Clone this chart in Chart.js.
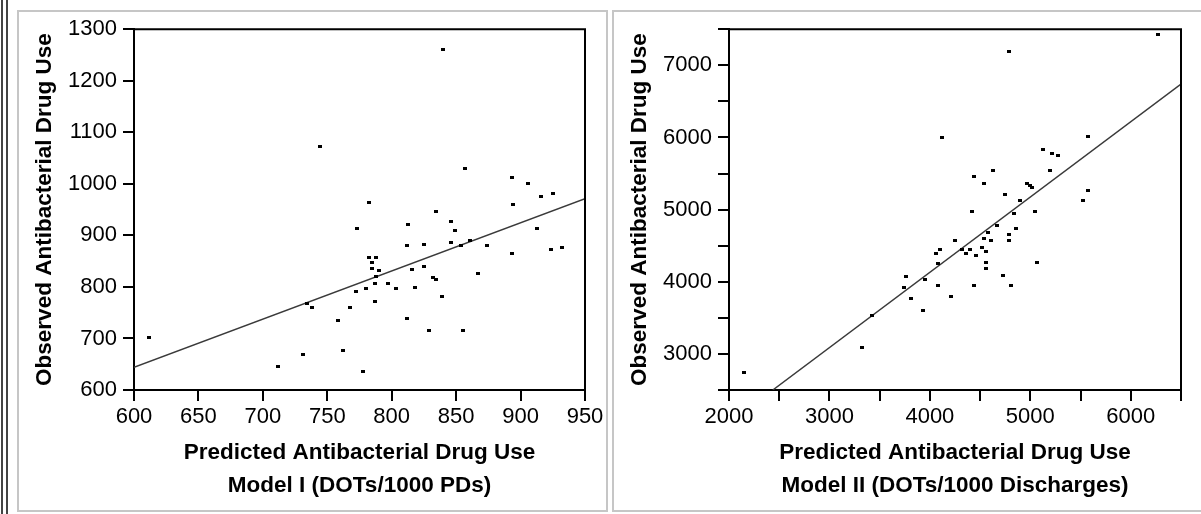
<!DOCTYPE html>
<html>
<head>
<meta charset="utf-8">
<script src="https://cdn.jsdelivr.net/npm/chart.js@4"></script>
<style>
    body { margin: 0; background: #fff; }
    .page { position: relative; width: 1201px; height: 514px; overflow: hidden; }
    .edge { position: absolute; top: 0; width: 2px; height: 514px; background: #444; }
    .panel { position: absolute; top: 10px; height: 502px; border: 2px solid #c6c6c6; box-sizing: border-box; }
    canvas { position: absolute; top: 10px; }
</style>
</head>
<body>
<div class="page">
    <div class="edge" style="left:1px"></div>
    <div class="edge" style="left:6px"></div>
    <div class="panel" style="left:17px; width:591px"></div>
    <div class="panel" style="left:612px; width:592px"></div>
    <canvas id="model1Chart" width="591" height="500" style="left:17px"></canvas>
    <canvas id="model2Chart" width="589" height="500" style="left:612px"></canvas>
</div>
<script>
// Model I: predicted vs observed (DOTs/1000 PDs)
const model1Predicted = [612, 712, 731, 734, 738, 744, 758, 762, 768, 772, 773, 778, 780, 782, 782, 788, 785, 785, 790, 788,
    787, 787, 797, 803, 812, 812, 813, 816, 818, 825, 825, 829, 832, 834, 834, 839, 840, 846, 846, 849,
    854, 855, 857, 861, 867, 874, 893, 893, 894, 906, 913, 916, 924, 925, 932];
const model1Observed = [701, 646, 669, 767, 760, 1073, 734, 676, 760, 792, 913, 635, 796, 963, 858, 858, 847, 836, 832, 821,
    807, 771, 807, 796, 738, 880, 921, 833, 799, 840, 883, 715, 818, 814, 946, 781, 1260, 927, 887, 909,
    880, 715, 1029, 890, 826, 880, 1012, 865, 960, 1000, 913, 975, 873, 982, 876];
const model1FitX = [600, 950];
const model1FitY = [644, 971];

// Model II: predicted vs observed (DOTs/1000 Discharges)
const model2Predicted = [2153, 3327, 3420, 3743, 3763, 3815, 3932, 3948, 4065, 4098, 4081, 4081, 4118, 4214, 4251, 4321, 4364, 4404,
    4424, 4441, 4441, 4461, 4517, 4537, 4537, 4557, 4557, 4557, 4577, 4613, 4630, 4667, 4726, 4743, 4783, 4783,
    4783, 4803, 4840, 4860, 4896, 4970, 5000, 5020, 5049, 5065, 5122, 5199, 5215, 5275, 5521, 5578, 5578, 6270];
const model2Observed = [2742, 3083, 3528, 3920, 4076, 3763, 3607, 4025, 4393, 4444, 4259, 3947, 5993, 3790, 4577, 4444, 4393, 4444,
    4968, 5464, 3948, 4366, 4472, 5359, 4600, 4421, 4265, 4186, 4678, 4572, 5547, 4784, 4080, 5203, 7193, 4651,
    4572, 3948, 4941, 4733, 5124, 5360, 5340, 5310, 4968, 4265, 5832, 5547, 5782, 5754, 5124, 6016, 5258, 7430];
const model2FitX = [2436, 6500];
const model2FitY = [2500, 6738];

// Axis ticks
const model1XTicks = [600, 650, 700, 750, 800, 850, 900, 950];
const model1YTicks = [600, 700, 800, 900, 1000, 1100, 1200, 1300];
const model2XTicks = [2000, 2500, 3000, 3500, 4000, 4500, 5000, 5500, 6000, 6500];
const model2XLabels = [2000, 3000, 4000, 5000, 6000];
const model2YTicks = [2500, 3000, 3500, 4000, 4500, 5000, 5500, 6000, 6500, 7000, 7500];
const model2YLabels = [3000, 4000, 5000, 6000, 7000];

const yTitle = "Observed Antibacterial Drug Use";
const xTitle1 = ["Predicted Antibacterial Drug Use", "Model I (DOTs/1000 PDs)"];
const xTitle2 = ["Predicted Antibacterial Drug Use", "Model II (DOTs/1000 Discharges)"];

const FONT = "'Liberation Sans', Arial, sans-serif";

// little black marker like the original
const dot = document.createElement("canvas");
dot.width = 4;
dot.height = 3;
const dctx = dot.getContext("2d");
dctx.fillStyle = "#000";
dctx.fillRect(0, 0, 4, 3);

// top + right edges of the plot box
const framePlugin = {
    id: "frame",
    afterDatasetsDraw(chart) {
        const { ctx, chartArea: a } = chart;
        ctx.save();
        ctx.strokeStyle = "#000";
        ctx.lineWidth = 2;
        ctx.beginPath();
        ctx.moveTo(a.left - 1, a.top);
        ctx.lineTo(a.right, a.top);
        ctx.lineTo(a.right, a.bottom);
        ctx.stroke();
        ctx.restore();
    },
};

function axis(ticks, labels, titleText, isY) {
    return {
        type: "linear",
        min: ticks[0],
        max: ticks[ticks.length - 1],
        afterBuildTicks: (scale) => {
            scale.ticks = ticks.map((v) => ({ value: v }));
        },
        afterFit: (scale) => {
            if (isY) scale.width = 117;
            else scale.height = 120;
        },
        grid: {
            drawOnChartArea: false,
            color: "#000",
            lineWidth: 2,
            tickLength: 11,
        },
        border: { color: "#000", width: 2 },
        ticks: {
            color: "#000",
            padding: isY ? 6 : 3,
            autoSkip: false,
            maxRotation: 0,
            minRotation: 0,
            font: { family: FONT, size: 22 },
            callback: (v) => (labels.includes(v) ? String(v) : ""),
        },
        title: {
            display: true,
            text: titleText,
            color: "#000",
            font: { family: FONT, size: 22.5, weight: "bold", lineHeight: isY ? 1.2 : 1.45 },
            padding: isY ? { top: 14, bottom: 0 } : { top: 0, bottom: 8 },
        },
    };
}

function makeChart(id, pred, obs, fitX, fitY, xTicks, xLabels, yTicks, yLabels, xTitle, padTop, padRight) {
    const ctx = document.getElementById(id).getContext("2d");
    return new Chart(ctx, {
        type: "scatter",
        data: {
            datasets: [
                {
                    data: pred.map((x, i) => ({ x: x, y: obs[i] })),
                    pointStyle: dot,
                    pointRadius: 2,
                    pointHoverRadius: 2,
                },
                {
                    data: fitX.map((x, i) => ({ x: x, y: fitY[i] })),
                    showLine: true,
                    borderColor: "#3a3a3a",
                    borderWidth: 1.5,
                    pointRadius: 0,
                },
            ],
        },
        options: {
            responsive: false,
            animation: false,
            layout: { padding: { top: padTop, right: padRight, left: 0, bottom: 0 } },
            plugins: {
                legend: { display: false },
                tooltip: { enabled: false },
            },
            scales: {
                x: axis(xTicks, xLabels, xTitle, false),
                y: axis(yTicks, yLabels, yTitle, true),
            },
        },
        plugins: [framePlugin],
    });
}

document.addEventListener("DOMContentLoaded", () => {
    makeChart("model1Chart", model1Predicted, model1Observed, model1FitX, model1FitY,
        model1XTicks, model1XTicks, model1YTicks, model1YTicks, xTitle1, 16, 23);
    makeChart("model2Chart", model2Predicted, model2Observed, model2FitX, model2FitY,
        model2XTicks, model2XLabels, model2YTicks, model2YLabels, xTitle2, 17, 20);
});
</script>
</body>
</html>
